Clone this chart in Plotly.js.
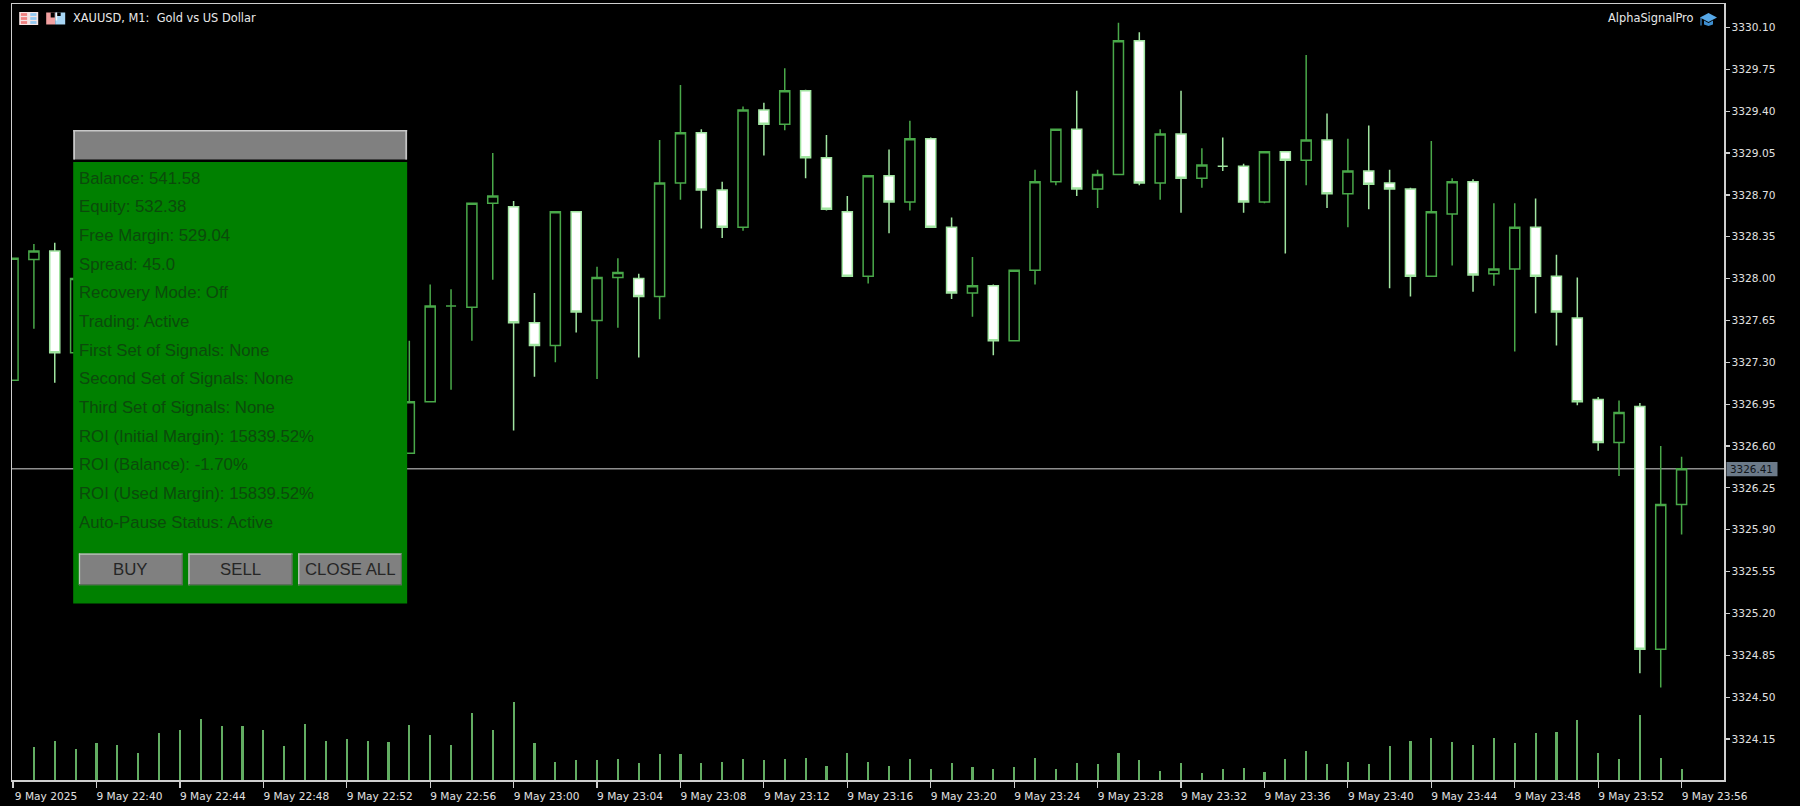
<!DOCTYPE html>
<html>
<head>
<meta charset="utf-8">
<script src="https://cdn.plot.ly/plotly-3.0.1.min.js"></script>
<style>html,body{margin:0;padding:0;background:#000;overflow:hidden}#chart{width:1800px;height:806px}</style>
</head>
<body>
<div id="chart"></div>
<script>
// Candles 22:36 .. 23:56, one per minute. null = hidden behind the panel in the picture.
const _ = null;
const openPrices = [3327.15,3328.16,3328.23,3327.38,_,_,_,_,_,_,_,_,_,_,_,_,_,_,_,3326.54,
 3326.97,3327.77,3327.76,3328.63,3328.60,3327.63,3327.44,3328.56,3327.65,3328.01,
 3328.00,3327.85,3328.80,3329.22,3328.74,3328.43,3329.41,3329.29,3329.57,3329.01,
 3328.56,3328.02,3328.86,3328.64,3329.17,3328.43,3327.88,3327.94,3327.48,3328.07,
 3328.81,3329.25,3328.75,3328.87,3329.99,3328.80,3329.21,3328.84,3328.94,3328.94,
 3328.64,3329.06,3328.99,3329.16,3328.71,3328.90,3328.80,3328.75,3328.02,3328.54,
 3328.81,3328.04,3328.08,3328.43,3328.02,3327.67,3326.99,3326.63,3326.93,3324.90,3326.11];
const closePrices = [3328.17,3328.23,3327.38,3328.00,_,_,_,_,_,_,_,_,_,_,_,_,_,_,_,3326.97,
 3327.77,3327.77,3328.63,3328.69,3327.63,3327.44,3328.56,3327.72,3328.01,3328.05,
 3327.85,3328.80,3329.22,3328.74,3328.43,3329.41,3329.29,3329.57,3329.01,3328.58,
 3328.02,3328.86,3328.64,3329.17,3328.43,3327.88,3327.94,3327.48,3328.07,3328.81,
 3329.25,3328.75,3328.87,3329.99,3328.80,3329.21,3328.84,3328.95,3328.94,3328.64,
 3329.06,3328.99,3329.16,3328.71,3328.90,3328.79,3328.75,3328.02,3328.56,3328.81,
 3328.03,3328.08,3328.43,3328.02,3327.72,3326.97,3326.63,3326.88,3324.90,3326.11,3326.41];
const highPrices = [3328.17,3328.29,3328.30,3328.00,_,_,_,_,_,_,_,_,_,_,_,_,_,_,_,3327.48,
 3327.95,3327.91,3328.63,3329.05,3328.65,3327.88,3328.56,3328.56,3328.10,3328.17,
 3328.04,3329.16,3329.62,3329.25,3328.81,3329.44,3329.47,3329.76,3329.58,3329.20,
 3328.69,3328.86,3329.08,3329.32,3329.18,3328.51,3328.18,3327.95,3328.07,3328.91,
 3329.25,3329.57,3328.91,3330.14,3330.06,3329.25,3329.57,3329.09,3329.18,3328.96,
 3329.06,3329.06,3329.87,3329.38,3329.17,3329.28,3328.91,3328.76,3329.15,3328.84,
 3328.83,3328.63,3328.63,3328.67,3328.20,3328.01,3327.01,3326.98,3326.96,3326.60,3326.51];
const lowPrices = [3327.15,3327.58,3327.13,3327.38,_,_,_,_,_,_,_,_,_,_,_,_,_,_,_,3326.54,
 3326.97,3327.07,3327.48,3327.99,3326.73,3327.18,3327.30,3327.55,3327.16,3327.59,
 3327.34,3327.66,3328.66,3328.42,3328.34,3328.40,3329.03,3329.24,3328.84,3328.57,
 3328.02,3327.96,3328.38,3328.57,3328.43,3327.83,3327.68,3327.36,3327.48,3327.95,
 3328.78,3328.69,3328.59,3328.87,3328.78,3328.66,3328.55,3328.76,3328.90,3328.55,
 3328.63,3328.21,3328.78,3328.59,3328.43,3328.58,3327.92,3327.85,3328.02,3328.11,
 3327.89,3327.94,3327.39,3327.71,3327.44,3326.94,3326.56,3326.35,3324.70,3324.58,3325.86];
const tickVolumes = [_,98,118,94,110,106,82,142,149,184,161,161,149,102,169,118,122,118,114,165,
 134,106,200,149,235,110,55,59,59,63,51,78,78,51,55,63,59,63,67,43,
 82,55,43,63,32,51,39,32,39,67,32,51,47,82,59,28,51,20,32,35,
 24,63,86,47,55,47,102,118,125,114,106,125,110,142,145,180,82,63,196,67,32];

const priceTicks = [3330.10,3329.75,3329.40,3329.05,3328.70,3328.35,3328.00,3327.65,3327.30,3326.95,3326.60,3326.25,3325.90,3325.55,3325.20,3324.85,3324.50,3324.15];
const timeTickLabels = ['9 May 2025','9 May 22:40','9 May 22:44','9 May 22:48','9 May 22:52','9 May 22:56','9 May 23:00','9 May 23:04','9 May 23:08','9 May 23:12','9 May 23:16','9 May 23:20','9 May 23:24','9 May 23:28','9 May 23:32','9 May 23:36','9 May 23:40','9 May 23:44','9 May 23:48','9 May 23:52','9 May 23:56'];
const currentPrice = 3326.41;
const panelLines = ['Balance: 541.58','Equity: 532.38','Free Margin: 529.04','Spread: 45.0','Recovery Mode: Off','Trading: Active','First Set of Signals: None','Second Set of Signals: None','Third Set of Signals: None','ROI (Initial Margin): 15839.52%','ROI (Balance): -1.70%','ROI (Used Margin): 15839.52%','Auto-Pause Status: Active'];
const panelButtons = ['BUY','SELL','CLOSE ALL'];

const pad = n => String(n).padStart(2,'0');
const minuteStamp = k => { const t = 22*60+36+k; return `2025-05-09 ${pad(Math.floor(t/60))}:${pad(t%60)}:00`; };
const times = openPrices.map((v,k)=>minuteStamp(k));
const timeTicks = timeTickLabels.map((v,k)=>minuteStamp(k*4));

// layout geometry
const L=12.3, R=1724.5, T=3.5, B=780, W=1800, H=806;
const px = x => (x-L)/(R-L);
const py = y => 1-(y-T)/(B-T);
const box = (x0,y0,x1,y1,fill,extra={}) => Object.assign({type:'rect',xref:'paper',yref:'paper',x0:px(x0),x1:px(x1),y0:py(y0),y1:py(y1),fillcolor:fill,line:{width:0},layer:'above'},extra);
const seg = (x0,y0,x1,y1,color,w) => ({type:'line',xref:'paper',yref:'paper',x0:px(x0),x1:px(x1),y0:py(y0),y1:py(y1),line:{color:color,width:w},layer:'above'});

const shapes = [
 {type:'line',xref:'paper',yref:'y',x0:0,x1:1,y0:currentPrice,y1:currentPrice,line:{color:'#8e8e8e',width:1.5},layer:'below'},
 // title bar
 box(73.5,129.5,407.5,159,'#808080'),
 seg(73.5,130.3,407.5,130.3,'#c8c8c8',1.6), seg(74.5,130,74.5,159,'#c8c8c8',1.6), seg(406.5,130,406.5,159,'#c8c8c8',1.6),
 // panel body
 box(73.5,161.5,407.5,603.3,'#008000'),
 // price tag
 box(1727,461.7,1778,476,'#6c7a89')
];
// table icon
shapes.push(box(19.5,11.5,38.5,24.5,'#f6e4e4'));
[[20,28.6,'#f08080'],[29.4,38,'#93c9f2']].forEach(c=>{ [12.6,16.6,20.6].forEach(y=>shapes.push(box(c[0]+1.2,y,c[1]-1.2,y+2.8,c[2]))); });
// chart icon
shapes.push(box(46.5,12,55.5,24,'#f2a0a0'), box(55.5,12,65.5,24,'#a8d6f5'), box(51,12,55,17,'#000'), box(57,12,61,15.5,'#000'), box(56,12,57.5,20,'#f6f6f6'));
// cap icon
shapes.push({type:'path',xref:'paper',yref:'paper',layer:'above',line:{width:0},fillcolor:'#56a8e8',
 path:`M ${px(1700.5)} ${py(17)} L ${px(1709)} ${py(12.5)} L ${px(1717.5)} ${py(17)} L ${px(1709)} ${py(21.5)} Z`});
shapes.push({type:'path',xref:'paper',yref:'paper',layer:'above',line:{width:0},fillcolor:'#3e8ed0',
 path:`M ${px(1704.5)} ${py(20)} L ${px(1709)} ${py(22.5)} L ${px(1713.5)} ${py(20)} L ${px(1713.5)} ${py(24)} L ${px(1709)} ${py(25.5)} L ${px(1704.5)} ${py(24)} Z`});
shapes.push(seg(1701.5,17,1701.5,25,'#3e8ed0',1.2));

const annotations = [];
const label = (x,y,text,o={}) => annotations.push(Object.assign({xref:'paper',yref:'paper',x:px(x),y:py(y),text:text,showarrow:false,xanchor:'left',yanchor:'middle',borderpad:0,
  font:{family:'DejaVu Sans, sans-serif',size:11.4,color:'#e8e8e8'}},o));
label(72.7,17.7,'XAUUSD, M1:  Gold vs US Dollar');
label(1694,17.7,'AlphaSignalPro',{xanchor:'right'});
label(1752.5,469,currentPrice.toFixed(2),{xanchor:'center',font:{family:'DejaVu Sans, sans-serif',size:10.4,color:'#10151a'}});
panelLines.forEach((t,k)=>label(78.5,177.7+28.7*k,t,{font:{family:'Liberation Sans, Arial, sans-serif',size:16.8,color:'#0b4a0b'}}));

// buttons
const btnX = [[79.2,183],[188.7,292.8],[298.5,402.2]];
panelButtons.forEach((t,k)=>{
  const [a,b]=btnX[k];
  shapes.push(box(a,553.3,b,585,'#808080'),
    seg(a,553.9,b,553.9,'#b8c8b8',1.3), seg(a+.6,553.3,a+.6,585,'#b8c8b8',1.3),
    seg(a,584.5,b,584.5,'#556b55',1), seg(b-.5,553.3,b-.5,585,'#556b55',1));
  label((a+b)/2,569.5,t,{xanchor:'center',font:{family:'Liberation Sans, Arial, sans-serif',size:16.8,color:'#262626'}});
});

const candleTrace = {
  type:'candlestick', x:times, open:openPrices, high:highPrices, low:lowPrices, close:closePrices,
  increasing:{line:{color:'#49a849',width:1.5},fillcolor:'#000000'},
  decreasing:{line:{color:'#a0e4a0',width:1.5},fillcolor:'#ffffff'},
  whiskerwidth:0, hoverinfo:'skip', yaxis:'y', showlegend:false
};
const volumeTrace = {
  type:'bar', x:times, y:tickVolumes, width:6300, marker:{color:'#62ad62',line:{width:0}},
  yaxis:'y2', hoverinfo:'skip', showlegend:false
};

const axisFont = {family:'DejaVu Sans, sans-serif',size:10.6,color:'#e0e0e0'};
const layout = {
  width:W, height:H, paper_bgcolor:'#000', plot_bgcolor:'#000', showlegend:false,
  margin:{l:L,r:W-R,t:T,b:H-B,pad:0}, boxgap:0.31, bargap:0,
  xaxis:{type:'date',range:['2025-05-09 22:35:57','2025-05-09 23:58:02'],rangeslider:{visible:false},
    tickmode:'array',tickvals:timeTicks,ticktext:timeTickLabels,ticks:'outside',ticklen:6,tickwidth:1.2,tickcolor:'#cfcfcf',
    tickfont:axisFont,ticklabelshift:33,tickangle:0,showgrid:false,zeroline:false,showline:true,linecolor:'#cfcfcf',linewidth:1.5,mirror:true,automargin:false},
  yaxis:{side:'right',range:[3323.807,3330.2964],tickmode:'array',tickvals:priceTicks,ticktext:priceTicks.map(v=>v.toFixed(2)),
    ticks:'outside',ticklen:4,tickwidth:1.2,tickcolor:'#cfcfcf',tickfont:axisFont,showgrid:false,zeroline:false,
    showline:true,linecolor:'#cfcfcf',linewidth:1.5,mirror:true,automargin:false,fixedrange:true},
  yaxis2:{overlaying:'y',side:'left',range:[0,2329.5],visible:false,fixedrange:true},
  shapes:shapes, annotations:annotations
};
Plotly.newPlot('chart',[volumeTrace,candleTrace],layout,{displayModeBar:false,staticPlot:true});
</script>
</body>
</html>
